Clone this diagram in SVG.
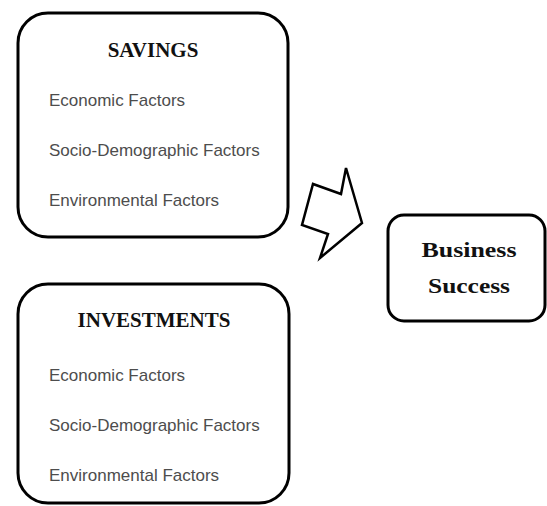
<svg xmlns="http://www.w3.org/2000/svg" width="547" height="506" viewBox="0 0 547 506">
  <style>
    .box { fill: #ffffff; stroke: #000000; stroke-width: 3; }
    .title { font-family: "Liberation Serif", "DejaVu Serif", serif; font-weight: bold; font-size: 21px; fill: #111111; text-anchor: middle; }
    .item { font-family: "Liberation Sans", Arial, sans-serif; font-size: 17px; fill: #4d4d4d; }
    .arrow { fill: #ffffff; stroke: #000000; stroke-width: 2.5; stroke-linejoin: miter; }
  </style>
  <rect width="547" height="506" fill="#ffffff"/>

  <g id="savings">
    <rect class="box" x="18" y="13" width="270" height="224" rx="30" ry="30"/>
    <text class="title" x="153" y="57">SAVINGS</text>
    <text class="item" x="49" y="106">Economic Factors</text>
    <text class="item" x="49" y="156">Socio-Demographic Factors</text>
    <text class="item" x="49" y="206">Environmental Factors</text>
  </g>

  <g id="investments">
    <rect class="box" x="18" y="284" width="271" height="219" rx="30" ry="30"/>
    <text class="title" x="154" y="327">INVESTMENTS</text>
    <text class="item" x="49" y="381">Economic Factors</text>
    <text class="item" x="49" y="431">Socio-Demographic Factors</text>
    <text class="item" x="49" y="481">Environmental Factors</text>
  </g>

  <g id="business-success">
    <rect class="box" x="388" y="215" width="157" height="106" rx="16" ry="16"/>
    <text class="title" x="469" y="257" textLength="95" lengthAdjust="spacingAndGlyphs">Business</text>
    <text class="title" x="469" y="293" textLength="82" lengthAdjust="spacingAndGlyphs">Success</text>
  </g>

  <g id="connectors">
    <polygon class="arrow" points="346,168 341,194 313,184 302,225 328,234 320,258 362,223"/>
  </g>
</svg>
